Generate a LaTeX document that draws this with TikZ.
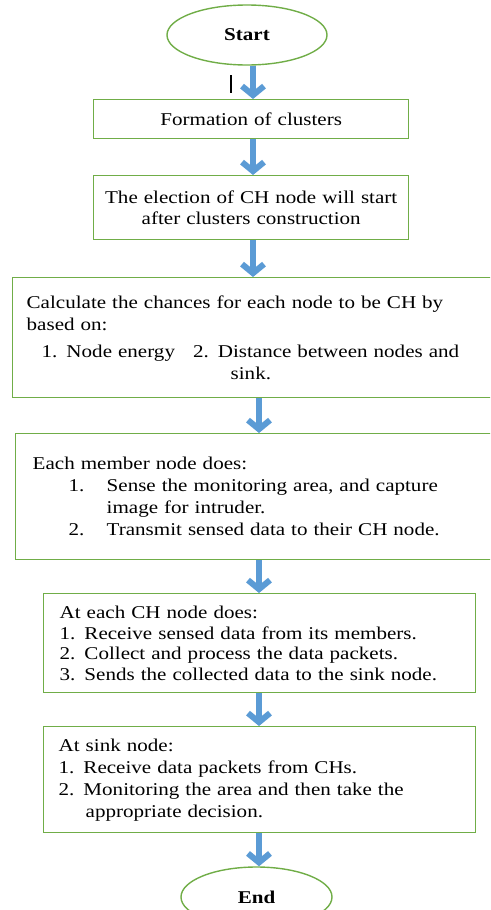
\documentclass[tikz,border=0pt]{standalone}
\usepackage{fontspec}
\setmainfont{Liberation Serif}[FakeStretch=1.17]
\usetikzlibrary{shapes.geometric,arrows.meta,positioning}

\definecolor{boxgreen}{RGB}{112,173,71}
\definecolor{flowblue}{RGB}{91,155,213}

\tikzset{
  stepbox/.style={draw=boxgreen, line width=1.4pt, rectangle, anchor=north west,
    align=left, inner ysep=0pt, font=\fontsize{18}{22}\selectfont},
  terminal/.style={draw=boxgreen, line width=1.4pt, ellipse, inner sep=0pt,
    font=\bfseries\fontsize{18}{22}\selectfont},
  flow/.style={flowblue, line width=6pt, -{Straight Barb[length=9pt,width=22pt]}},
}

\begin{document}
\begin{tikzpicture}[x=1pt,y=-1pt]
    \useasboundingbox (0,0) rectangle (490,910);
    \clip (0,0) rectangle (490,910);
    % Start and End
    \node[terminal, minimum width=160pt, minimum height=60pt] (start) at (247,35) {Start};
    \node[terminal, minimum width=151pt, minimum height=60pt] (end) at (256.5,897) {End};
    % Steps
    \node[stepbox, align=center, text width=315pt, inner xsep=0pt, minimum height=39pt] (form) at (93,99) {Formation of clusters};
    \node[stepbox, align=center, text width=315pt, inner xsep=0pt, minimum height=64pt,
      font=\fontsize{18}{20.5}\selectfont] (elect) at (93,175)
      {The election  of CH node  will start\\after  clusters  construction};
    \node[stepbox, text width=500pt, inner xsep=14pt, minimum height=120pt] (calc) at (12,277)
      {Calculate the chances  for each  node to be CH by\\
       based  on:\\[5pt]
       \hspace*{15pt}1. Node energy \ \ 2. Distance between  nodes and\\
       \hspace*{204pt}sink.};
    \node[stepbox, text width=500pt, inner xsep=17pt, minimum height=126pt] (member) at (15,433)
      {Each  member node does:\\
       \hspace*{36pt}\makebox[38pt][l]{1.}Sense the monitoring area,  and capture\\
       \hspace*{74pt}image  for intruder.\\
       \hspace*{36pt}\makebox[38pt][l]{2.}Transmit sensed  data to their  CH node.};
    \node[stepbox, text width=400pt, inner xsep=16pt, minimum height=99pt,
      font=\fontsize{18}{20.5}\selectfont] (head) at (43,593)
      {At each  CH node does:\\
       1. Receive  sensed  data from  its members.\\
       2. Collect and  process  the data  packets.\\
       3. Sends the collected  data to the sink node.};
    \node[stepbox, text width=402pt, inner xsep=15pt, minimum height=106pt] (sink) at (43,726)
      {At sink node:\\
       1. Receive  data packets  from CHs.\\
       2. Monitoring the area  and then take  the\\
       \hspace*{27pt}appropriate  decision.};
    % Arrows
    \coordinate (axisA) at (253,0);
    \coordinate (axisB) at (259,0);
    \draw[flow] (start.south -| axisA) -- (form.north -| axisA);
    \draw[flow] (form.south -| axisA) -- (elect.north -| axisA);
    \draw[flow] (elect.south -| axisA) -- (calc.north -| axisA);
    \draw[flow] (calc.south -| axisB) -- (member.north -| axisB);
    \draw[flow] (member.south -| axisB) -- (head.north -| axisB);
    \draw[flow] (head.south -| axisB) -- (sink.north -| axisB);
    \draw[flow] (sink.south -| axisB) -- (end.north -| axisB);
    % text cursor
    \draw[line width=1.3pt] (231,75) -- (231,93);
\end{tikzpicture}
\end{document}
